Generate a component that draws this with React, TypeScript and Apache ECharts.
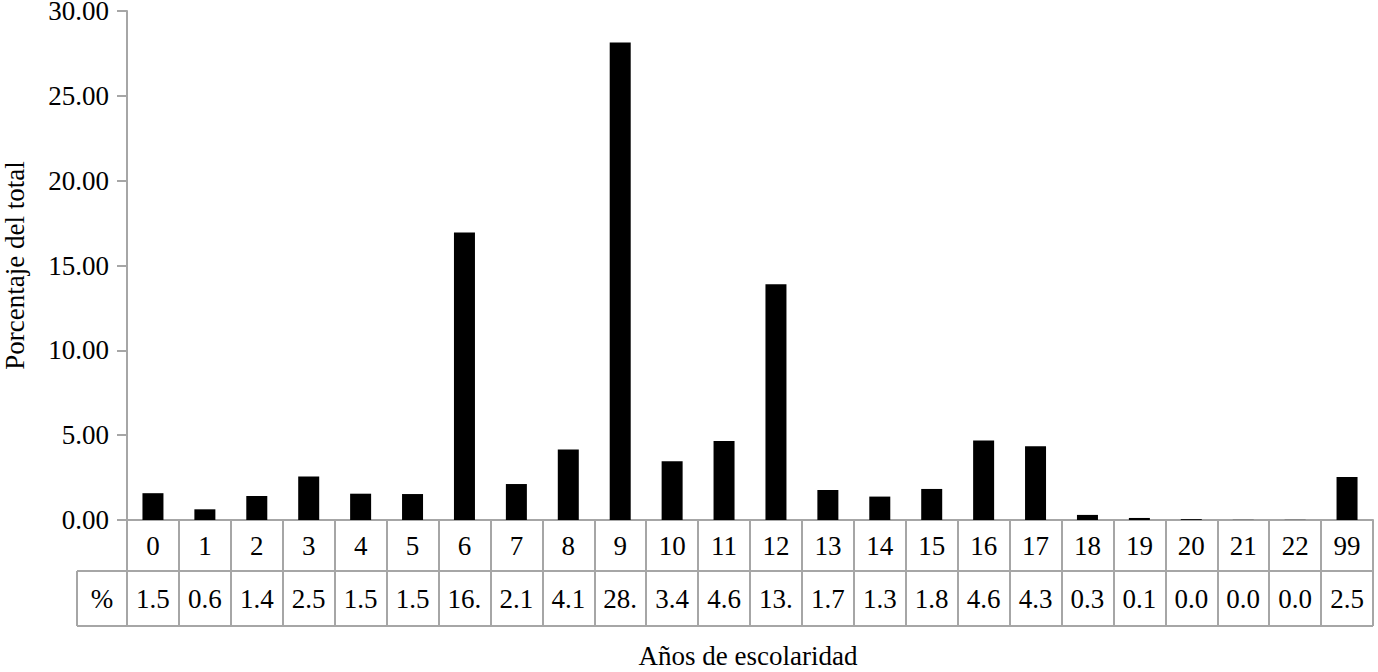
import React, { useEffect, useRef } from "react";
import * as echarts from "echarts";

const categories = ["0","1","2","3","4","5","6","7","8","9","10","11","12","13","14","15","16","17","18","19","20","21","22","99"];
const values = [1.58, 0.63, 1.42, 2.56, 1.55, 1.53, 16.95, 2.12, 4.16, 28.15, 3.47, 4.66, 13.9, 1.77, 1.38, 1.83, 4.68, 4.35, 0.3, 0.12, 0.05, 0.01, 0.01, 2.53];
const tableLabels = ["1.5","0.6","1.4","2.5","1.5","1.5","16.","2.1","4.1","28.","3.4","4.6","13.","1.7","1.3","1.8","4.6","4.3","0.3","0.1","0.0","0.0","0.0","2.5"];
const yTicks = { min: 0, max: 30, interval: 5 };

const FONT = "Liberation Serif, Times New Roman, serif";
const FS = 27;
const GRID_COLOR = "#a6a6a6";

export default function App() {
  const ref = useRef<HTMLDivElement>(null);
  useEffect(() => {
    document.body.style.margin = "0";
    const chart = echarts.init(ref.current!, null, { renderer: "svg" });
    const L = 127, R = 5, T = 11, B = 152;
    const W = 1378, H = 672;
    const axisY = H - B; // 520
    const row = 51;
    chart.setOption({
      animation: false,
      grid: { left: L, right: R, top: T, bottom: B, containLabel: false, outerBoundsMode: "none" },
      xAxis: [
        {
          type: "category",
          data: categories,
          position: "bottom",
          axisLine: { lineStyle: { color: GRID_COLOR, width: 2 } },
          axisTick: { show: true, interval: 0, length: row * 2 + 4, lineStyle: { color: GRID_COLOR, width: 2 } },
          axisLabel: { interval: 0, margin: 12, fontSize: FS, color: "#000", fontFamily: FONT },
        },
        {
          type: "category",
          data: tableLabels,
          position: "bottom",
          offset: row,
          axisLine: { show: true, lineStyle: { color: GRID_COLOR, width: 2 } },
          axisTick: { show: false },
          axisLabel: { interval: 0, margin: 14, fontSize: FS, color: "#000", fontFamily: FONT },
        },
      ],
      yAxis: {
        type: "value",
        min: yTicks.min,
        max: yTicks.max,
        interval: yTicks.interval,
        name: "Porcentaje del total",
        nameLocation: "middle",
        nameGap: 99,
        nameRotate: 90,
        nameTextStyle: { fontSize: FS, color: "#000", fontFamily: FONT },
        axisLine: { show: true, lineStyle: { color: GRID_COLOR, width: 2 } },
        axisTick: { show: true, length: 10, lineStyle: { color: GRID_COLOR, width: 2 } },
        axisLabel: { fontSize: FS, lineHeight: 22, color: "#000", fontFamily: FONT, margin: 18, formatter: (v: number) => v.toFixed(2) },
        splitLine: { show: false },
      },
      series: [
        {
          type: "bar",
          data: values,
          xAxisIndex: 0,
          barWidth: 21,
          itemStyle: { color: "#000" },
        },
      ],
      graphic: [
        { type: "line", shape: { x1: 77, y1: axisY + row, x2: L, y2: axisY + row }, style: { stroke: GRID_COLOR, lineWidth: 2 } },
        { type: "line", shape: { x1: 77, y1: axisY + row * 2 + 4, x2: W - R, y2: axisY + row * 2 + 4 }, style: { stroke: GRID_COLOR, lineWidth: 2 } },
        { type: "line", shape: { x1: 77, y1: axisY + row, x2: 77, y2: axisY + row * 2 + 4 }, style: { stroke: GRID_COLOR, lineWidth: 2 } },
        { type: "text", x: 102, y: axisY + row + 28, style: { text: "%", fontSize: FS, fill: "#000", fontFamily: FONT, align: "center", verticalAlign: "middle" } },
        { type: "text", x: 748, y: 656, style: { text: "Años de escolaridad", fontSize: FS, fill: "#000", fontFamily: FONT, align: "center", verticalAlign: "middle" } },
      ],
    });
    return () => chart.dispose();
  }, []);
  return <div ref={ref} style={{ width: 1378, height: 672 }} />;
}
